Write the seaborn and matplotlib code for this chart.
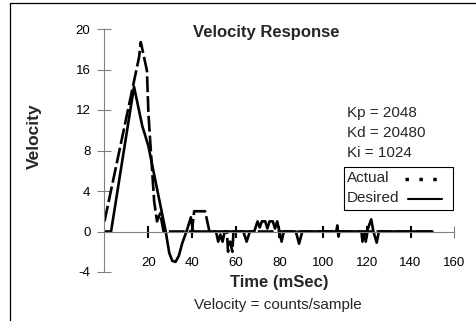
import matplotlib
matplotlib.use("Agg")
import matplotlib.pyplot as plt
import seaborn as sns
import pandas as pd
from matplotlib.lines import Line2D
from matplotlib.patches import Rectangle

# ---- data ----
actual_t = [0, 15.8, 16.6, 19.4, 20.1, 22.7, 24.0, 25.5, 27.0, 40.0, 41.0, 46.0, 48.0,
            56.0, 56.5, 57.5, 58.5, 59.0, 150.0]
actual_v = [1.0, 17.2, 18.7, 15.9, 11.6, 3.0, 1.0, 1.8, 0.0, 0.0, 2.0, 2.0, 0.0,
            0.0, -2.0, -1.0, -2.0, 0.0, 0.0]

desired_t = [0, 3, 13.5, 17.3, 20.0, 28.0, 29.6, 31.0, 32.5, 34.0, 35.5, 37.8, 39.5, 40.5,
             50.0, 51.0, 52.0, 53.0, 54.0, 55.0,
             63.5, 65.0, 66.5,
             68.5, 70.0, 71.0, 72.0, 73.5, 74.5, 75.5, 77.0, 78.0, 79.0, 81.0, 82.0,
             87.5, 89.0, 90.5,
             106.0, 106.5, 107.0, 107.5,
             117.5, 118.0, 119.0, 119.5, 120.5, 122.0, 123.0, 124.5, 125.5,
             150.0]
desired_v = [0, 0, 14.3, 10.4, 8.5, 0, -2.1, -2.9, -3.0, -2.4, -1.2, 0.2, 1.4, 0,
             0, 0, -1.0, -0.3, -1.0, 0,
             0, -1.0, 0,
             0, 1.0, 0.4, 1.0, 1.0, 0.3, 1.0, 1.0, 0.3, 1.0, -1.0, 0,
             0, -1.2, 0,
             0, 0.6, -0.5, 0,
             0, -1.0, 0, -1.0, 0.3, 1.2, 0, -1.1, 0,
             0]

x_ticks = [20, 40, 60, 80, 100, 120, 140, 160]
y_ticks = [-4, 0, 4, 8, 12, 16, 20]
gains = ["Kp = 2048", "Kd = 20480", "Ki = 1024"]
series_names = ["Actual", "Desired"]

sns.set_theme(style="white")
plt.rcParams["font.family"] = ["Liberation Sans", "DejaVu Sans"]
plt.rcParams["axes.unicode_minus"] = False

W, H = 477, 321
fig = plt.figure(figsize=(W / 100, H / 100), dpi=100)
fig.patch.set_facecolor("white")


def fx(px):
    return px / W


def fy(py):
    return 1 - py / H


ax = fig.add_axes([fx(104.5), fy(272.0), (454.3 - 104.5) / W, (272.0 - 29.0) / H])
ax.set_facecolor("white")

df_a = pd.DataFrame({"t": actual_t, "v": actual_v})
df_d = pd.DataFrame({"t": desired_t, "v": desired_v})
sns.lineplot(data=df_d, x="t", y="v", ax=ax, color="black", lw=1.9,
             sort=False, estimator=None)
sns.lineplot(data=df_a, x="t", y="v", ax=ax, color="black", lw=1.9,
             sort=False, estimator=None, linestyle=(0, (6, 1.5)))

ax.set_xlim(0, 160)
ax.set_ylim(-4, 20)
ax.set_xlabel("")
ax.set_ylabel("")

for s in ["top", "right"]:
    ax.spines[s].set_visible(False)
for s in ["left", "bottom"]:
    ax.spines[s].set_position(("data", 0))
    ax.spines[s].set_color("#808080")
    ax.spines[s].set_linewidth(0.8)

ax.set_xticks(x_ticks)
ax.set_yticks(y_ticks)
ax.tick_params(axis="x", direction="inout", length=9, width=1.5, color="black",
               pad=13.5, labelsize=9.5, bottom=True, labelcolor="black")
ax.tick_params(axis="y", direction="inout", length=9.4, width=0.8, color="#808080",
               pad=5.4, labelsize=9.5, left=True, labelcolor="black")
last = ax.xaxis.get_major_ticks()[-1]
last.tick1line.set_markeredgecolor("#808080")
last.tick1line.set_markeredgewidth(0.8)

# legend box (text left, sample right, as in the reference)
fig.add_artist(Rectangle((fx(344), fy(210)), (453 - 344) / W, (210 - 166.7) / H,
                         transform=fig.transFigure, facecolor="white",
                         edgecolor="black", lw=0.8))
fig.text(fx(347), fy(181.5), series_names[0], fontsize=11, ha="left", va="baseline")
fig.text(fx(347), fy(201.7), series_names[1], fontsize=11, ha="left", va="baseline")
fig.add_artist(Line2D([fx(405), fx(440)], [fy(179), fy(179)], transform=fig.transFigure,
                      color="black", lw=2.5, linestyle=(0, (1, 3)),
                      dash_capstyle="butt"))
fig.add_artist(Line2D([fx(408), fx(442)], [fy(199), fy(199)], transform=fig.transFigure,
                      color="black", lw=1.5))

# texts
fig.text(fx(193), fy(36.7), "Velocity Response", fontsize=12, fontweight="bold",
         ha="left", va="baseline")
fig.text(fx(34.5), fy(136.5), "Velocity", fontsize=12.5, fontweight="bold",
         rotation=90, ha="center", va="center")
fig.text(fx(279), fy(287), "Time (mSec)", fontsize=12, fontweight="bold",
         ha="center", va="baseline")
fig.text(fx(278), fy(308.5), "Velocity = counts/sample", fontsize=11,
         ha="center", va="baseline")
for i, g in enumerate(gains):
    fig.text(fx(347), fy(116.7 + 20.2 * i), g, fontsize=11, ha="left", va="baseline")

# outer chart-area border (top and left visible)
fig.add_artist(Line2D([fx(10), 1], [fy(3), fy(3)], transform=fig.transFigure,
                      color="black", lw=0.9))
fig.add_artist(Line2D([fx(10), fx(10)], [0, fy(3)], transform=fig.transFigure,
                      color="black", lw=0.9))

fig.savefig("out.png", dpi=100, facecolor="white")
